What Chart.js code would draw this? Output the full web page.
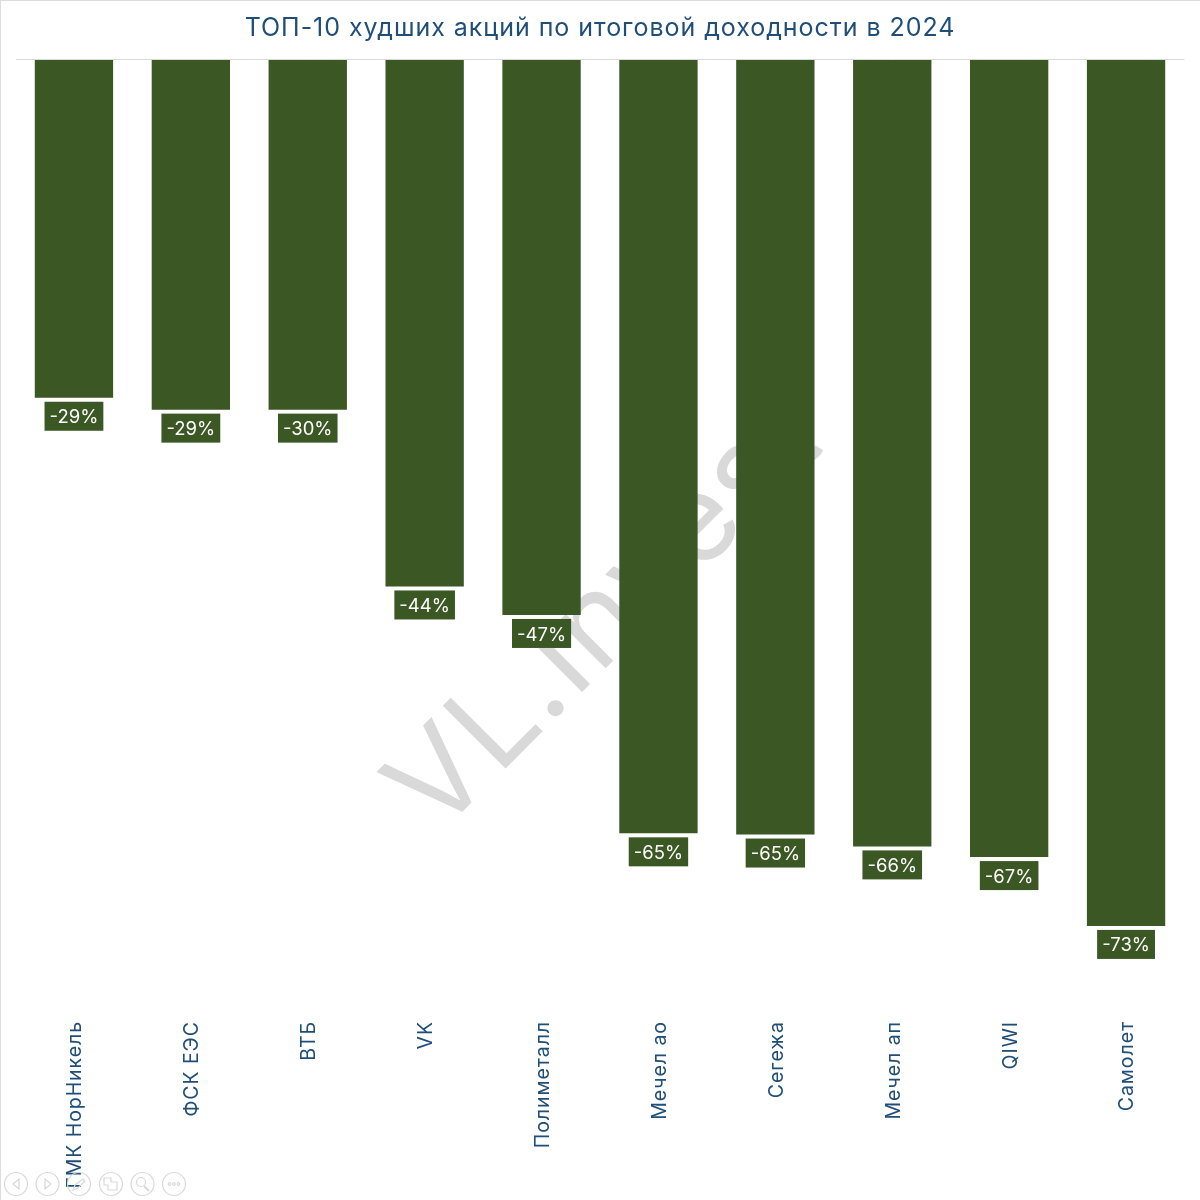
<!DOCTYPE html>
<html>
<head>
<meta charset="utf-8">
<script src="https://cdn.jsdelivr.net/npm/chart.js@4"></script>
<style>
  html, body { margin: 0; padding: 0; background: #fff; }
  #wrap { position: relative; width: 1200px; height: 1200px; overflow: hidden; }
  #wrap::before { content: ''; position: absolute; inset: 0; border-left: 1px solid #ddd; border-top: 1px solid #ddd; pointer-events: none; }
  #controls { position: absolute; left: 0; top: 1166px; }
</style>
</head>
<body>
<div id="wrap">
  <canvas id="chart" width="1200" height="1200"></canvas>
  <svg id="controls" width="200" height="34" fill="none" stroke="#d9d9d9" stroke-width="1.2">
    <circle cx="16" cy="18" r="11.5"/><path d="M19 13l-6 5 6 5z"/>
    <circle cx="47.500" cy="18" r="11.500"/><path d="M45 13l6 5-6 5z"/>
    <circle cx="79" cy="18" r="11.500"/><path d="M73 24l2-5 8-6 2 2-7 7z"/>
    <circle cx="111" cy="18" r="11.500"/><path d="M104 12h7v4h6v8h-9v-5h-4z"/>
    <circle cx="142.500" cy="18" r="11.500"/><circle cx="141" cy="16" r="4.500"/><path d="M144 20l5 5" stroke-width="2"/>
    <circle cx="174" cy="18" r="11.500"/><circle cx="169.500" cy="18" r="1.300"/><circle cx="174" cy="18" r="1.300"/><circle cx="178.500" cy="18" r="1.300"/>
  </svg>
</div>
<script>
const FONT = 'Inter, "Open Sans", sans-serif';

const titleText = 'ТОП-10 худших акций по итоговой доходности в 2024';
const watermarkText = 'VL.Invest';
const categories = ['ГМК НорНикель', 'ФСК ЕЭС', 'ВТБ', 'VK', 'Полиметалл', 'Мечел ао', 'Сегежа', 'Мечел ап', 'QIWI', 'Самолет'];
const returns = [-28.5, -29.5, -29.5, -44.4, -46.8, -65.2, -65.3, -66.3, -67.2, -73.0];
const valueLabels = ['-29%', '-29%', '-30%', '-44%', '-47%', '-65%', '-65%', '-66%', '-67%', '-73%'];

const GREEN = '#3B5723';
const BLUE = '#1F4E79';

// the reference font runs wider than Inter, so open up title and tick text a bit
const wideText = {
  id: 'wideText',
  beforeDraw(chart) {
    chart.ctx.letterSpacing = '0.95px';
  }
};

// watermark goes under the bars, rotated 45deg up
const watermark = {
  id: 'watermark',
  beforeDatasetsDraw(chart) {
    const { ctx } = chart;
    ctx.save();
    ctx.translate(437, 837);
    ctx.rotate(-Math.PI / 4);
    ctx.font = '400 122px ' + FONT;
    ctx.letterSpacing = '2px';
    ctx.fillStyle = '#d9d9d9';
    ctx.textAlign = 'left';
    ctx.textBaseline = 'alphabetic';
    ctx.fillText(watermarkText, 0, 0);
    ctx.restore();
  }
};

// label boxes under each bar
const barLabels = {
  id: 'barLabels',
  afterDatasetsDraw(chart) {
    const { ctx } = chart;
    chart.getDatasetMeta(0).data.forEach((bar, i) => {
      const text = valueLabels[i];
      ctx.save();
      ctx.font = '18.5px ' + FONT;
      ctx.letterSpacing = '0px';
      const w = ctx.measureText(text).width + 10;
      ctx.fillStyle = GREEN;
      ctx.fillRect(bar.x - w / 2, bar.y + 4, w, 29);
      ctx.fillStyle = '#fff';
      ctx.textAlign = 'center';
      ctx.textBaseline = 'middle';
      ctx.fillText(text, bar.x, bar.y + 20);
      ctx.restore();
    });
  }
};

new Chart(document.getElementById('chart'), {
  type: 'bar',
  data: {
    labels: categories,
    datasets: [{
      data: returns,
      backgroundColor: GREEN,
      barPercentage: 0.67,
      categoryPercentage: 1
    }]
  },
  options: {
    responsive: false,
    animation: false,
    devicePixelRatio: 1,
    layout: { padding: { left: 15.5, right: 15.5, top: 0, bottom: 0 } },
    plugins: {
      legend: { display: false },
      tooltip: { enabled: false },
      title: {
        display: true,
        text: titleText,
        color: BLUE,
        font: { family: FONT, size: 25, weight: '400' },
        padding: { top: 13, bottom: 16.5 }
      }
    },
    scales: {
      x: {
        position: 'bottom',
        grid: { display: false },
        border: { display: false },
        afterFit: (scale) => { scale.height = 191; },
        ticks: {
          autoSkip: false,
          minRotation: 90,
          maxRotation: 90,
          padding: 4,
          labelOffset: 1.5,
          color: BLUE,
          font: { family: FONT, size: 19.5 }
        }
      },
      y: {
        min: -80,
        max: 0,
        afterFit: (scale) => { scale.width = 0; },
        border: { display: false },
        grid: {
          drawTicks: false,
          color: (ctx) => (ctx.tick.value === 0 ? '#d9d9d9' : 'transparent')
        },
        ticks: { display: false }
      }
    }
  },
  plugins: [wideText, watermark, barLabels]
});
</script>
</body>
</html>
